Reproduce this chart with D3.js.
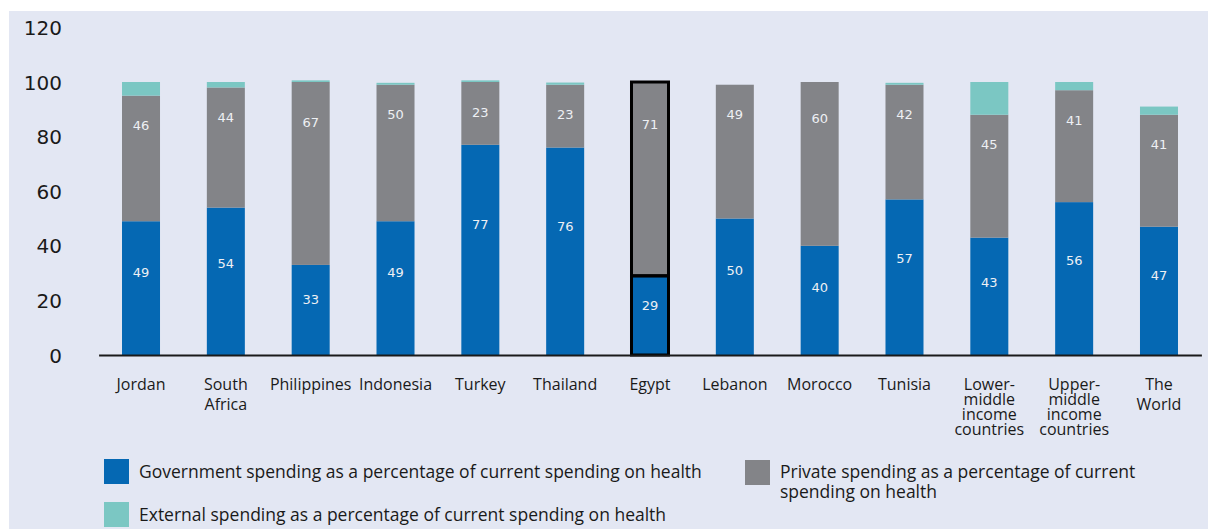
<!DOCTYPE html>
<html>
<head>
<meta charset="utf-8">
<script src="https://cdn.jsdelivr.net/npm/d3@7"></script>
<style>
  html, body { margin: 0; padding: 0; background: #ffffff; }
  svg { display: block; }
</style>
</head>
<body>
<svg id="chart" width="1208" height="529"></svg>
<script>
// Health spending shares by source, % of current health expenditure
const categories = [
  "Jordan", "South Africa", "Philippines", "Indonesia", "Turkey", "Thailand",
  "Egypt", "Lebanon", "Morocco", "Tunisia",
  "Lower-middle income countries", "Upper-middle income countries", "The World"
];
const categoryLines = [
  ["Jordan"], ["South", "Africa"], ["Philippines"], ["Indonesia"], ["Turkey"],
  ["Thailand"], ["Egypt"], ["Lebanon"], ["Morocco"], ["Tunisia"],
  ["Lower-", "middle", "income", "countries"],
  ["Upper-", "middle", "income", "countries"],
  ["The", "World"]
];
const government = [49, 54, 33, 49, 77, 76, 29, 50, 40, 57, 43, 56, 47];
const privateSpending = [46, 44, 67, 50, 23, 23, 71, 49, 60, 42, 45, 41, 41];
const external = [5, 2, 0.6, 0.7, 0.6, 0.8, 0, 0, 0, 0.7, 12, 3, 3];
const yTicks = [0, 20, 40, 60, 80, 100, 120];
const highlighted = ["Egypt"];
const seriesKeys = ["government", "private", "external"];
const legendLabels = {
  government: ["Government spending as a percentage of current spending on health"],
  private: ["Private spending as a percentage of current", "spending on health"],
  external: ["External spending as a percentage of current spending on health"]
};

const colors = { government: "#0568b3", private: "#838488", external: "#7bc7c3" };

const rows = categories.map((c, i) => ({
  category: c,
  government: government[i],
  private: privateSpending[i],
  external: external[i]
}));

const svg = d3.select("#chart");

// panel background
svg.append("rect")
  .attr("x", 9).attr("y", 11)
  .attr("width", 1208 - 9).attr("height", 529 - 11)
  .attr("fill", "#e3e7f3");

const y = d3.scaleLinear().domain([0, 120]).range([355, 27.4]);
const x = d3.scaleBand()
  .domain(categories)
  .range([98.6, 1201.4])
  .paddingInner(0.552)
  .paddingOuter(0.276);

const stacked = d3.stack().keys(seriesKeys)(rows);

// bars
const layers = svg.append("g").selectAll("g")
  .data(stacked)
  .join("g")
  .attr("fill", d => colors[d.key]);

layers.selectAll("rect")
  .data(d => d.filter(p => p[1] - p[0] > 0))
  .join("rect")
  .attr("x", p => x(p.data.category))
  .attr("width", x.bandwidth())
  .attr("y", p => y(p[1]))
  .attr("height", p => y(p[0]) - y(p[1]));

// outline for the highlighted country
const outlined = svg.append("g")
  .attr("fill", "none")
  .attr("stroke", "#000000")
  .attr("stroke-width", 3);
stacked.forEach(layer => {
  layer.filter(p => highlighted.includes(p.data.category) && p[1] - p[0] > 0)
    .forEach(p => {
      outlined.append("rect")
        .attr("x", x(p.data.category) + 0.5)
        .attr("width", x.bandwidth() - 1)
        .attr("y", y(p[1]))
        .attr("height", y(p[0]) - y(p[1]));
    });
});

// value labels inside the government and private segments
const labelG = svg.append("g")
  .attr("font-family", "'DejaVu Sans', sans-serif")
  .attr("font-size", 13)
  .attr("fill", "#eef0f4")
  .attr("text-anchor", "middle")
  .attr("dominant-baseline", "central");

rows.forEach(r => {
  const cx = x(r.category) + x.bandwidth() / 2;
  labelG.append("text")
    .attr("x", cx)
    .attr("y", y(r.government * 0.62))
    .text(d3.format("d")(r.government));
  const top = r.government + r.private;
  const pos = Math.min(r.government + r.private * 0.78, top - 11);
  labelG.append("text")
    .attr("x", cx)
    .attr("y", y(pos))
    .text(d3.format("d")(r.private));
});

// y axis
const yAxis = svg.append("g")
  .attr("transform", "translate(62,0)")
  .call(d3.axisLeft(y).tickValues(yTicks).tickSize(0).tickPadding(0));
yAxis.select(".domain").remove();
yAxis.selectAll("text")
  .attr("font-family", "'DejaVu Sans', sans-serif")
  .attr("font-size", 20)
  .attr("fill", "#1a1a1a")
  .attr("dy", null)
  .attr("dominant-baseline", "central");

// x baseline
const xAxis = svg.append("g")
  .attr("transform", `translate(0,${y(0)})`)
  .call(d3.axisBottom(x).tickSize(0).tickSizeOuter(0).tickFormat(""));
xAxis.select(".domain")
  .attr("stroke", "#1a1a1a")
  .attr("stroke-width", 2);

// category labels
const catG = svg.append("g")
  .attr("font-family", "'Open Sans', sans-serif")
  .attr("font-size", 16)
  .attr("fill", "#1a1a1a")
  .attr("text-anchor", "middle");

categories.forEach((c, i) => {
  const lines = categoryLines[i];
  const lh = lines.length > 2 ? 15 : 20;
  const t = catG.append("text")
    .attr("x", x(c) + x.bandwidth() / 2)
    .attr("y", 384)
    .attr("dominant-baseline", "central");
  lines.forEach((ln, k) => {
    t.append("tspan")
      .attr("x", x(c) + x.bandwidth() / 2)
      .attr("dy", k === 0 ? 0 : lh)
      .text(ln);
  });
});

// legend
const legendPos = {
  government: { x: 104, y: 459 },
  private: { x: 745, y: 460 },
  external: { x: 104, y: 502 }
};
const legend = svg.append("g")
  .attr("font-family", "'Open Sans', sans-serif")
  .attr("font-size", 17.5)
  .attr("fill", "#1a1a1a");

seriesKeys.forEach(k => {
  const p = legendPos[k];
  legend.append("rect")
    .attr("x", p.x).attr("y", p.y)
    .attr("width", 25).attr("height", 25)
    .attr("fill", colors[k]);
  const t = legend.append("text")
    .attr("x", p.x + 35)
    .attr("y", p.y + (k === "private" ? 11 : 11.5))
    .attr("dominant-baseline", "central");
  legendLabels[k].forEach((ln, j) => {
    t.append("tspan")
      .attr("x", p.x + 35)
      .attr("dy", j === 0 ? 0 : 20)
      .text(ln);
  });
});
</script>
</body>
</html>
